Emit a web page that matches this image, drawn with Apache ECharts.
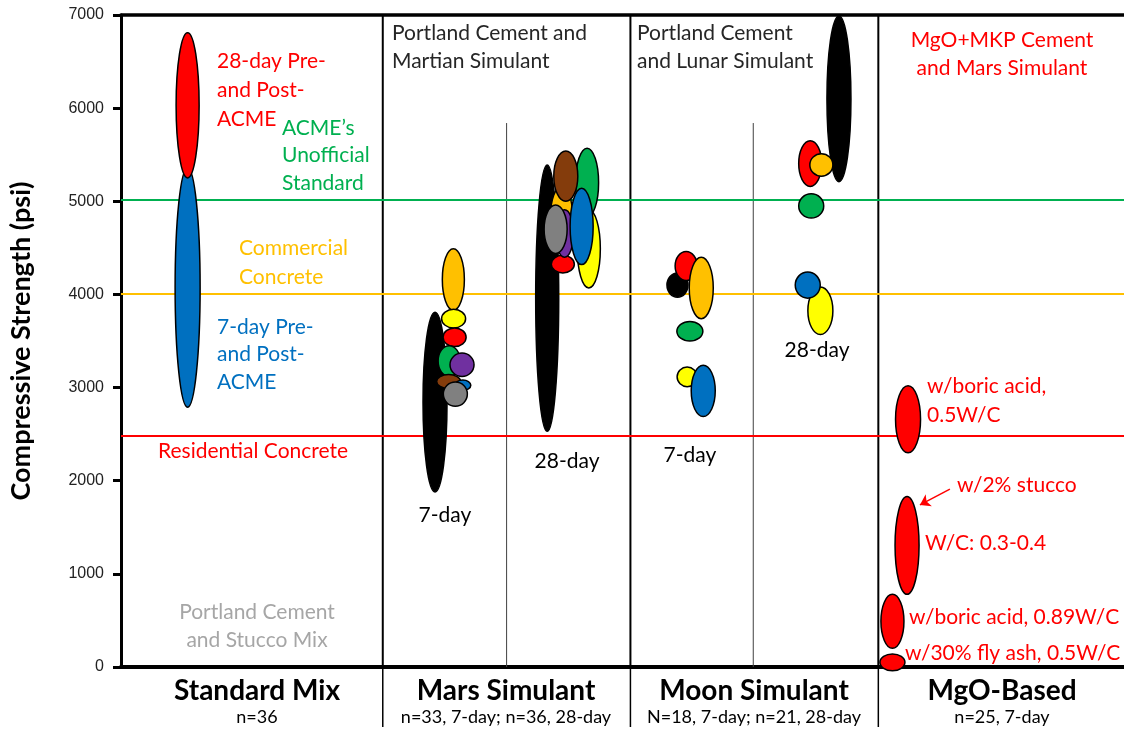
<!DOCTYPE html>
<html>
<head>
<meta charset="utf-8">
<script src="https://cdn.jsdelivr.net/npm/echarts@6/dist/echarts.min.js"></script>
<style>
  html, body { margin: 0; background: #fff; }
  #chart { width: 1124px; height: 734px; }
</style>
</head>
<body>
<div id="chart"></div>
<script>
// group labels under the axis
const groups = ['Standard Mix', 'Mars Simulant', 'Moon Simulant', 'MgO-Based'];
const groupCounts = ['n=36', 'n=33, 7-day; n=36, 28-day', 'N=18, 7-day; n=21, 28-day', 'n=25, 7-day'];

// reference strengths (psi): ACME's unofficial standard, commercial, residential
const refLevels = [5020, 4010, 2480];
const refColors = ['#00B050', '#FFC000', '#FF0000'];

const palette = {
  black: '#000000', orange: '#FFC000', yellow: '#FFFF00', red: '#FF0000', green: '#00B050',
  purple: '#7030A0', brown: '#843C0C', blue: '#0070C0', gray: '#808080'
};

// ranges of compressive strength (psi), drawn in this order
const stdColors = ['blue', 'red'];
const stdLow = [2790, 5250];
const stdHigh = [5360, 6810];

const mars7Colors = ['black', 'orange', 'yellow', 'red', 'green', 'purple', 'brown', 'blue', 'gray'];
const mars7Low = [1880, 3830, 3640, 3440, 3120, 3120, 2990, 2970, 2800];
const mars7High = [3810, 4490, 3840, 3640, 3450, 3370, 3140, 3080, 3060];

const mars28Colors = ['black', 'orange', 'yellow', 'green', 'brown', 'red', 'purple', 'gray', 'blue'];
const mars28Low = [2530, 4520, 4070, 4830, 5000, 4230, 4400, 4440, 4320];
const mars28High = [5390, 5160, 4910, 5570, 5540, 4420, 4910, 4960, 5140];

const moon7Colors = ['black', 'red', 'orange', 'green', 'yellow', 'blue'];
const moon7Low = [3970, 4150, 3740, 3500, 3010, 2690];
const moon7High = [4230, 4460, 4400, 3710, 3220, 3240];

const moon28Colors = ['black', 'red', 'orange', 'green', 'yellow', 'blue'];
const moon28Low = [5210, 5160, 5270, 4820, 3570, 3960];
const moon28High = [6990, 5650, 5510, 5080, 4080, 4240];

const mgoColors = ['red', 'red', 'red', 'red'];
const mgoLow = [2300, 780, 200, -40];
const mgoHigh = [3020, 1830, 780, 140];

// layout on the x axis (one unit per group): ellipse centres and widths
const stdX = [0.269, 0.269], stdW = [0.101, 0.093];
const mars7X = [1.268, 1.342, 1.343, 1.347, 1.325, 1.377, 1.323, 1.380, 1.350];
const mars7W = [0.097, 0.089, 0.097, 0.093, 0.089, 0.097, 0.097, 0.065, 0.097];
const mars28X = [1.721, 1.779, 1.889, 1.882, 1.796, 1.784, 1.791, 1.755, 1.860];
const mars28W = [0.093, 0.089, 0.093, 0.093, 0.097, 0.093, 0.073, 0.093, 0.093];
const moon7X = [2.247, 2.282, 2.343, 2.297, 2.286, 2.351];
const moon7W = [0.085, 0.089, 0.097, 0.105, 0.081, 0.097];
const moon28X = [2.899, 2.783, 2.828, 2.787, 2.824, 2.773];
const moon28W = [0.097, 0.093, 0.093, 0.101, 0.101, 0.101];
const mgoX = [3.178, 3.174, 3.115, 3.115], mgoW = [0.101, 0.097, 0.093, 0.101];

const groupEdges = [1.057, 2.057, 3.058];
const dayEdges = [1.557, 2.553];
const dayEdgeTop = 5840;
const xMax = 4.05, yMax = 7000;

const FONT = 'Lato, "Noto Sans", sans-serif';
const NARROW = '"Liberation Sans Narrow", Lato, sans-serif';

function renderEllipse(params, api) {
  const x = api.value(0), lo = api.value(1), hi = api.value(2), w = api.value(3);
  const top = api.coord([x, hi]);
  const bot = api.coord([x, lo]);
  const left = api.coord([x - w / 2, lo]);
  return {
    type: 'ellipse',
    shape: { cx: top[0], cy: (top[1] + bot[1]) / 2, rx: top[0] - left[0], ry: (bot[1] - top[1]) / 2 },
    style: { fill: api.visual('color'), stroke: '#000', lineWidth: 1.5 }
  };
}

function ellipseSeries(name, xs, ws, lows, highs, colors) {
  return {
    type: 'custom', name: name, z: 5, clip: false,
    renderItem: renderEllipse,
    encode: { x: 0, y: [1, 2] },
    data: xs.map((x, i) => ({
      value: [x, lows[i], highs[i], ws[i]],
      itemStyle: { color: palette[colors[i]] }
    }))
  };
}

function txt(x, y, text, color, opts) {
  opts = opts || {};
  return {
    type: 'text', x: x, y: y, z: 20,
    style: {
      text: text, fill: color,
      font: (opts.weight || 'normal') + ' ' + (opts.size || 21) + 'px ' + (opts.family || FONT),
      lineHeight: opts.lh || 28,
      align: opts.align || 'left', textAlign: opts.align || 'left',
      verticalAlign: 'top', textVerticalAlign: 'top'
    }
  };
}

const groupCentres = [257, 506, 754, 1002];
const graphics = [];
groups.forEach((g, i) => {
  graphics.push(txt(groupCentres[i], 674, g, '#000', { size: 28, weight: 'bold', align: 'center', lh: 34 }));
  graphics.push(txt(groupCentres[i], 707, groupCounts[i], '#000', { size: 18, align: 'center', lh: 20 }));
});
graphics.push(
  txt(217, 47, '28-day Pre-\nand Post-\nACME', '#FF0000', { lh: 29 }),
  txt(282, 114, 'ACME\u2019s\nUnofficial\nStandard', '#00B050', { lh: 27.5 }),
  txt(239, 234, 'Commercial\nConcrete', '#FFC000', { lh: 28.5 }),
  txt(217, 313, '7-day Pre-\nand Post-\nACME', '#0070C0', { lh: 27.5 }),
  txt(158, 437, 'Residential Concrete', '#FF0000'),
  txt(257, 598, 'Portland Cement\nand Stucco Mix', '#A6A6A6', { align: 'center' }),
  txt(392, 19, 'Portland Cement and\nMartian Simulant', '#262626'),
  txt(445, 501, '7-day', '#000', { align: 'center' }),
  txt(567, 447, '28-day', '#000', { align: 'center' }),
  txt(637, 19, 'Portland Cement\nand Lunar Simulant', '#262626'),
  txt(690, 441, '7-day', '#000', { align: 'center' }),
  txt(817, 336, '28-day', '#000', { align: 'center' }),
  txt(1002, 26, 'MgO+MKP Cement\nand Mars Simulant', '#FF0000', { align: 'center' }),
  txt(927, 372, 'w/boric acid,\n0.5W/C', '#FF0000', { lh: 29 }),
  txt(957, 471, 'w/2% stucco', '#FF0000'),
  txt(925, 529, 'W/C: 0.3-0.4', '#FF0000'),
  txt(909, 603, 'w/boric acid, 0.89W/C', '#FF0000'),
  txt(905, 639, 'w/30% fly ash, 0.5W/C', '#FF0000')
);

const chart = echarts.init(document.getElementById('chart'));
chart.setOption({
  animation: false,
  backgroundColor: '#fff',
  grid: { left: 120, right: 0, top: 15, bottom: 67 },
  xAxis: [
    {
      type: 'value', min: 0, max: xMax, position: 'bottom',
      axisLine: { show: true, onZero: false, lineStyle: { color: '#000', width: 4 } },
      axisTick: { show: false }, axisLabel: { show: false }, splitLine: { show: false }
    },
    {
      type: 'value', min: 0, max: xMax, position: 'top',
      axisLine: { show: true, onZero: false, lineStyle: { color: '#000', width: 3.5 } },
      axisTick: { show: false }, axisLabel: { show: false }, splitLine: { show: false }
    }
  ],
  yAxis: {
    type: 'value', min: 0, max: yMax, interval: 1000,
    name: 'Compressive Strength (psi)', nameLocation: 'middle', nameGap: 86,
    nameTextStyle: { fontFamily: NARROW, fontWeight: 'bold', fontSize: 27, color: '#000' },
    axisLine: { show: true, lineStyle: { color: '#000', width: 3 } },
    axisTick: { show: true, length: 8, lineStyle: { color: '#000', width: 3 } },
    axisLabel: {
      fontFamily: '"Liberation Sans", sans-serif', fontSize: 16, color: '#222', margin: 17,
      formatter: v => String(v)
    },
    splitLine: { show: false }
  },
  graphic: graphics,
  series: [
    {
      type: 'line', name: 'levels', data: [], z: 1, silent: true,
      markLine: {
        silent: true, symbol: 'none', label: { show: false }, animation: false,
        lineStyle: { width: 2, type: 'solid' },
        data: refLevels.map((v, i) => ({ yAxis: v, lineStyle: { color: refColors[i], width: 2, type: 'solid' } }))
      }
    },
    {
      type: 'custom', name: 'dayEdges', z: 2, clip: false, silent: true,
      encode: { x: 0, y: 1 },
      data: dayEdges.map(x => [x, dayEdgeTop]),
      renderItem: function (params, api) {
        const p0 = api.coord([api.value(0), api.value(1)]);
        const p1 = api.coord([api.value(0), 0]);
        return { type: 'line', shape: { x1: p0[0], y1: p0[1], x2: p1[0], y2: p1[1] }, style: { stroke: '#404040', lineWidth: 1 } };
      }
    },
    {
      type: 'custom', name: 'groupEdges', z: 3, clip: false, silent: true,
      encode: { x: 0, y: 1 },
      data: groupEdges.map(x => [x, yMax]),
      renderItem: function (params, api) {
        const p0 = api.coord([api.value(0), api.value(1)]);
        const p1 = api.coord([api.value(0), 0]);
        return {
          type: 'group', children: [
            { type: 'line', shape: { x1: p0[0], y1: p0[1], x2: p1[0], y2: p1[1] }, style: { stroke: '#000', lineWidth: 2 } },
            { type: 'line', shape: { x1: p1[0], y1: p1[1], x2: p1[0], y2: p1[1] + 60 }, style: { stroke: '#000', lineWidth: 1.5 } }
          ]
        };
      }
    },
    ellipseSeries('Standard Mix', stdX, stdW, stdLow, stdHigh, stdColors),
    ellipseSeries('Mars 7-day', mars7X, mars7W, mars7Low, mars7High, mars7Colors),
    ellipseSeries('Mars 28-day', mars28X, mars28W, mars28Low, mars28High, mars28Colors),
    ellipseSeries('Moon 7-day', moon7X, moon7W, moon7Low, moon7High, moon7Colors),
    ellipseSeries('Moon 28-day', moon28X, moon28W, moon28Low, moon28High, moon28Colors),
    ellipseSeries('MgO-Based', mgoX, mgoW, mgoLow, mgoHigh, mgoColors),
    {
      type: 'line', name: 'arrow', data: [], z: 6, silent: true,
      markLine: {
        silent: true, symbol: ['none', 'arrow'], symbolSize: 10, label: { show: false }, animation: false,
        lineStyle: { color: '#FF0000', width: 1.5, type: 'solid' },
        data: [[{ coord: [3.347, 1910] }, { coord: [3.226, 1740] }]]
      }
    }
  ]
});
</script>
</body>
</html>
